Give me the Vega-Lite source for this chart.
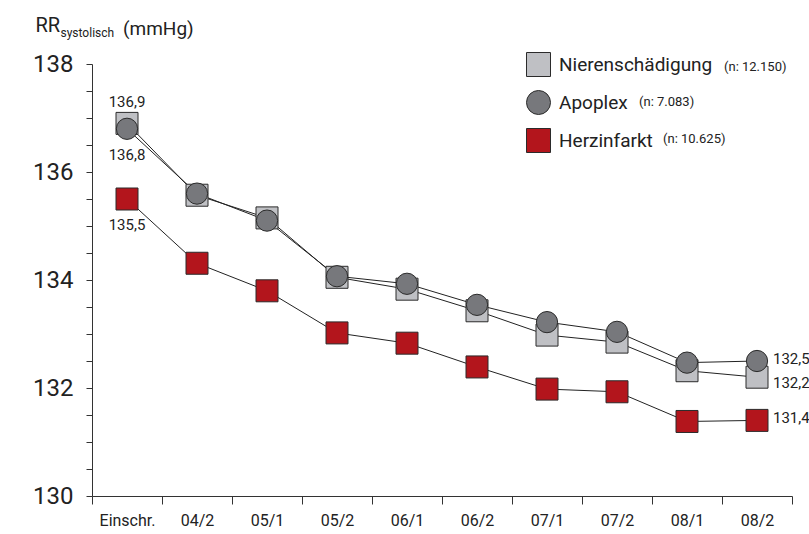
{
  "$schema": "https://vega.github.io/schema/vega-lite/v6.json",
  "width": 700,
  "height": 432,
  "autosize": {"type": "none"},
  "padding": {"left": 92, "top": 64, "right": 17, "bottom": 38},
  "config": {
    "view": {"stroke": null},
    "font": "Roboto",
    "locale": {"number": {"decimal": ",", "thousands": ".", "grouping": [3], "currency": ["", " €"]}},
    "axis": {"domainColor": "#333", "tickColor": "#333", "labelColor": "#222", "titleColor": "#222", "labelFont": "Roboto", "titleFont": "Roboto", "grid": false, "titleFontWeight": "normal"}
  },
  "title": {"text": "(mmHg)", "anchor": "start", "frame": "group", "fontSize": 19, "fontWeight": "normal", "font": "Roboto", "color": "#222", "dx": 31, "offset": 0, "dy": 39, "baseline": "alphabetic"},
  "data": {"values": [
    {"series": "Nierenschädigung", "n": "12.150", "period": "Einschr.", "value": 136.9},
    {"series": "Nierenschädigung", "n": "12.150", "period": "04/2", "value": 135.57},
    {"series": "Nierenschädigung", "n": "12.150", "period": "05/1", "value": 135.15},
    {"series": "Nierenschädigung", "n": "12.150", "period": "05/2", "value": 134.05},
    {"series": "Nierenschädigung", "n": "12.150", "period": "06/1", "value": 133.83},
    {"series": "Nierenschädigung", "n": "12.150", "period": "06/2", "value": 133.43},
    {"series": "Nierenschädigung", "n": "12.150", "period": "07/1", "value": 132.98},
    {"series": "Nierenschädigung", "n": "12.150", "period": "07/2", "value": 132.85},
    {"series": "Nierenschädigung", "n": "12.150", "period": "08/1", "value": 132.32},
    {"series": "Nierenschädigung", "n": "12.150", "period": "08/2", "value": 132.2},
    {"series": "Apoplex", "n": "7.083", "period": "Einschr.", "value": 136.8},
    {"series": "Apoplex", "n": "7.083", "period": "04/2", "value": 135.6},
    {"series": "Apoplex", "n": "7.083", "period": "05/1", "value": 135.1},
    {"series": "Apoplex", "n": "7.083", "period": "05/2", "value": 134.07},
    {"series": "Apoplex", "n": "7.083", "period": "06/1", "value": 133.93},
    {"series": "Apoplex", "n": "7.083", "period": "06/2", "value": 133.54},
    {"series": "Apoplex", "n": "7.083", "period": "07/1", "value": 133.22},
    {"series": "Apoplex", "n": "7.083", "period": "07/2", "value": 133.04},
    {"series": "Apoplex", "n": "7.083", "period": "08/1", "value": 132.47},
    {"series": "Apoplex", "n": "7.083", "period": "08/2", "value": 132.5},
    {"series": "Herzinfarkt", "n": "10.625", "period": "Einschr.", "value": 135.5},
    {"series": "Herzinfarkt", "n": "10.625", "period": "04/2", "value": 134.31},
    {"series": "Herzinfarkt", "n": "10.625", "period": "05/1", "value": 133.8},
    {"series": "Herzinfarkt", "n": "10.625", "period": "05/2", "value": 133.02},
    {"series": "Herzinfarkt", "n": "10.625", "period": "06/1", "value": 132.83},
    {"series": "Herzinfarkt", "n": "10.625", "period": "06/2", "value": 132.39},
    {"series": "Herzinfarkt", "n": "10.625", "period": "07/1", "value": 131.98},
    {"series": "Herzinfarkt", "n": "10.625", "period": "07/2", "value": 131.93},
    {"series": "Herzinfarkt", "n": "10.625", "period": "08/1", "value": 131.38},
    {"series": "Herzinfarkt", "n": "10.625", "period": "08/2", "value": 131.4}
  ]},
  "layer": [
    {
      "encoding": {
        "x": {"field": "period", "type": "ordinal", "sort": null,
          "scale": {"type": "band", "paddingInner": 0, "paddingOuter": 0},
          "axis": {"title": "systolisch", "titleX": -32, "titleY": -460, "titleAlign": "left", "titleBaseline": "alphabetic", "titleAnchor": null, "titleFontSize": 12,
            "labelAngle": 0, "tickBand": "extent", "tickSize": 8, "labelPadding": 8, "labelFontSize": 16}},
        "y": {"field": "value", "type": "quantitative",
          "scale": {"domain": [130, 138], "nice": false, "zero": false},
          "axis": {"title": "RR", "titleAngle": 0, "titleX": -57, "titleY": -33, "titleAlign": "left", "titleBaseline": "alphabetic", "titleFontSize": 20, "titleAnchor": null,
            "values": [130, 130.5, 131, 131.5, 132, 132.5, 133, 133.5, 134, 134.5, 135, 135.5, 136, 136.5, 137, 137.5, 138],
            "labelExpr": "datum.value % 2 === 0 ? datum.value : ''",
            "tickSize": 6, "labelPadding": 13, "labelFontSize": 24}}
      },
      "layer": [
        {"mark": {"type": "line", "color": "#222", "strokeWidth": 1}, "encoding": {"detail": {"field": "series"}}},
        {"transform": [{"filter": "datum.series !== 'Apoplex'"}],
          "mark": {"type": "point", "filled": true, "size": 484, "stroke": "#2b2b2b", "strokeWidth": 1, "opacity": 1},
          "encoding": {
            "fill": {"field": "series", "type": "nominal", "scale": {"domain": ["Nierenschädigung", "Apoplex", "Herzinfarkt"], "range": ["#bfc0c4", "#77787c", "#b3151c"]},
              "legend": {"orient": "none", "legendX": 434, "legendY": -12, "title": null, "padding": 0, "symbolSize": 576, "symbolStrokeColor": "#2b2b2b", "symbolStrokeWidth": 1, "symbolOpacity": 1, "labelFontSize": 19, "labelFont": "Roboto", "labelColor": "#222", "labelOffset": 8, "rowPadding": 9,
                "encode": {"symbols": {"update": {"stroke": {"value": "#2b2b2b"}, "strokeWidth": {"value": 1}}}}}},
            "shape": {"field": "series", "type": "nominal", "scale": {"domain": ["Nierenschädigung", "Apoplex", "Herzinfarkt"], "range": ["square", "circle", "square"]},
              "legend": {"orient": "none", "legendX": 434, "legendY": -12, "title": null, "padding": 0, "symbolSize": 576, "symbolStrokeColor": "#2b2b2b", "symbolStrokeWidth": 1, "symbolOpacity": 1, "labelFontSize": 19, "labelFont": "Roboto", "labelColor": "#222", "labelOffset": 8, "rowPadding": 9,
                "encode": {"symbols": {"update": {"stroke": {"value": "#2b2b2b"}, "strokeWidth": {"value": 1}}}}}}
          }},
        {"transform": [{"filter": "datum.series === 'Apoplex'"}],
          "mark": {"type": "point", "filled": true, "size": 452, "stroke": "#2b2b2b", "strokeWidth": 1, "opacity": 1},
          "encoding": {
            "fill": {"field": "series", "type": "nominal"},
            "shape": {"field": "series", "type": "nominal"}
          }},
        {"transform": [{"filter": "datum.series === 'Nierenschädigung' && datum.period === 'Einschr.'"}],
          "mark": {"type": "text", "fontSize": 15, "color": "#222", "dy": -21},
          "encoding": {"text": {"field": "value", "type": "quantitative", "format": ".1f"}}},
        {"transform": [{"filter": "datum.series !== 'Nierenschädigung' && datum.period === 'Einschr.'"}],
          "mark": {"type": "text", "fontSize": 15, "color": "#222", "dy": 26},
          "encoding": {"text": {"field": "value", "type": "quantitative", "format": ".1f"}}},
        {"transform": [{"filter": "datum.series === 'Nierenschädigung' && datum.period === '08/2'"}],
          "mark": {"type": "text", "fontSize": 15, "color": "#222", "align": "left", "dx": 16, "dy": 6},
          "encoding": {"text": {"field": "value", "type": "quantitative", "format": ".1f"}}},
        {"transform": [{"filter": "datum.series !== 'Nierenschädigung' && datum.period === '08/2'"}],
          "mark": {"type": "text", "fontSize": 15, "color": "#222", "align": "left", "dx": 16, "dy": -2},
          "encoding": {"text": {"field": "value", "type": "quantitative", "format": ".1f"}}}
      ]
    },
    {"transform": [{"filter": "datum.series === 'Nierenschädigung' && datum.period === 'Einschr.'"}],
      "mark": {"type": "text", "text": ""},
      "encoding": {"color": {"field": "n", "type": "nominal",
        "legend": {"orient": "none", "legendX": 619, "legendY": -4, "title": null, "padding": 0, "symbolSize": 0, "symbolOpacity": 0, "symbolStrokeWidth": 0, "labelOffset": 0, "labelFontSize": 13, "labelFont": "Roboto", "labelColor": "#222", "labelExpr": "'(n: ' + datum.label + ')'"}}}},
    {"transform": [{"filter": "datum.series === 'Apoplex' && datum.period === 'Einschr.'"}],
      "mark": {"type": "text", "text": ""},
      "encoding": {"color": {"field": "n", "type": "nominal",
        "legend": {"orient": "none", "legendX": 534, "legendY": 31, "title": null, "padding": 0, "symbolSize": 0, "symbolOpacity": 0, "symbolStrokeWidth": 0, "labelOffset": 0, "labelFontSize": 13, "labelFont": "Roboto", "labelColor": "#222", "labelExpr": "'(n: ' + datum.label + ')'"}}}},
    {"transform": [{"filter": "datum.series === 'Herzinfarkt' && datum.period === 'Einschr.'"}],
      "mark": {"type": "text", "text": ""},
      "encoding": {"color": {"field": "n", "type": "nominal",
        "legend": {"orient": "none", "legendX": 558, "legendY": 68, "title": null, "padding": 0, "symbolSize": 0, "symbolOpacity": 0, "symbolStrokeWidth": 0, "labelOffset": 0, "labelFontSize": 13, "labelFont": "Roboto", "labelColor": "#222", "labelExpr": "'(n: ' + datum.label + ')'"}}}}
  ],
  "resolve": {"scale": {"color": "independent"}, "legend": {"color": "independent"}}
}
